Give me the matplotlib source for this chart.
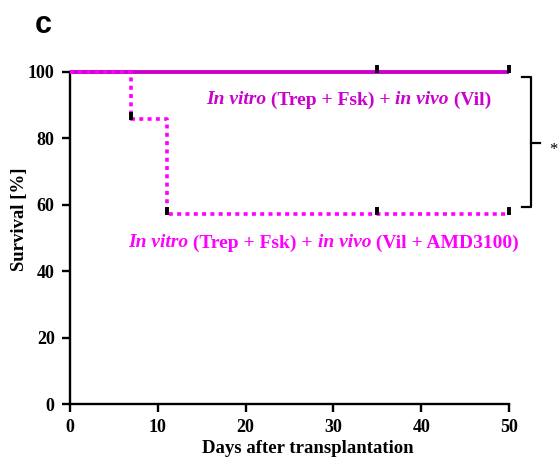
import matplotlib
matplotlib.use("Agg")
import matplotlib.pyplot as plt
import matplotlib.transforms as mtransforms
from matplotlib.lines import Line2D

# ---- data ----
vil_days = [0, 50]
vil_surv = [100, 100]
vil_censor_days = [35, 50]
vil_censor_surv = [100, 100]

amd_days = [0, 7, 11, 50]
amd_surv = [100, 85.7, 57.1, 57.1]
amd_censor_days = [7, 11, 35, 50]
amd_censor_surv = [85.7, 57.1, 57.1, 57.1]

x_ticks = [0, 10, 20, 30, 40, 50]
y_ticks = [0, 20, 40, 60, 80, 100]

label_vil = [("In vitro", "italic"), (" (Trep + Fsk) + ", "normal"), ("in vivo", "italic"), (" (Vil)", "normal")]
label_amd = [("In vitro", "italic"), (" (Trep + Fsk) + ", "normal"), ("in vivo", "italic"), (" (Vil + AMD3100)", "normal")]

C_VIL = "#CC00CC"
C_AMD = "#FF00FF"
SERIF = "Liberation Serif"

fig = plt.figure(figsize=(5.59, 4.61), dpi=100)
ax = fig.add_axes([70/559, 57/461, 439/559, 332/461])

ax.step(vil_days, vil_surv, where="post", color=C_VIL, lw=2.8, clip_on=False, zorder=3,
        solid_capstyle="butt")
ax.step(amd_days, amd_surv, where="post", color=C_AMD, lw=2.6, clip_on=False, zorder=4,
        linestyle=(0, (1.1, 1.2)), dash_capstyle="butt")

up = mtransforms.offset_copy(ax.transData, fig=fig, x=0, y=3, units="dots")
ax.plot(vil_censor_days, vil_censor_surv, ls="none", marker="|", ms=5.5, mew=2.8,
        color="black", transform=up, clip_on=False, zorder=5)
ax.plot(amd_censor_days, amd_censor_surv, ls="none", marker="|", ms=5.5, mew=2.8,
        color="black", transform=up, clip_on=False, zorder=5)

ax.set_xlim(0, 50)
ax.set_ylim(0, 100)
ax.set_xticks(x_ticks)
ax.set_yticks(y_ticks)
for s in ["top", "right"]:
    ax.spines[s].set_visible(False)
for s in ["left", "bottom"]:
    ax.spines[s].set_linewidth(1.7)
ax.tick_params(width=1.7, length=6, direction="out", pad=5)
for lab in ax.get_xticklabels() + ax.get_yticklabels():
    lab.set_fontfamily(SERIF)
    lab.set_fontweight("bold")
    lab.set_fontsize(13)
ax.set_xlabel("Days after transplantation", fontfamily=SERIF, fontweight="bold",
              fontsize=13.5, va="center")
ax.xaxis.set_label_coords(0.542, -0.133)
ax.set_ylabel("Survival [%]", fontfamily=SERIF, fontweight="bold", fontsize=13.5, va="center")
ax.yaxis.set_label_coords(-0.114, 0.555)

# bracket
bx, by_top, by_bot, by_mid = 52.5, 98.5, 59.3, 78.6
ax.add_line(Line2D([51.5, bx, bx, 51.5], [by_top, by_top, by_bot, by_bot], color="black",
                   lw=1.6, clip_on=False, solid_joinstyle="round"))
ax.add_line(Line2D([bx, 53.5], [by_mid, by_mid], color="black", lw=1.6, clip_on=False))
ax.text(55.0, by_mid - 2.0, "*", fontfamily=SERIF, fontsize=12, ha="center", va="center")

fig.text(43/559, 1 - 25/461, "c", fontfamily="Liberation Sans", fontweight="bold",
         fontsize=22, ha="center", va="center")


def mixed_text(pieces, xc, yc, color, size=14):
    renderer = fig.canvas.get_renderer()
    texts = []
    widths = []
    for s, style in pieces:
        t = ax.text(0, 0, s, fontfamily=SERIF, fontweight="bold", fontstyle=style,
                    fontsize=size, color=color, va="center", ha="left")
        bb = t.get_window_extent(renderer)
        texts.append(t)
        widths.append(bb.width)
    total = sum(widths)
    cx, cy = ax.transData.transform((xc, yc))
    x = cx - total / 2
    inv = ax.transData.inverted()
    for t, w in zip(texts, widths):
        t.set_position(inv.transform((x, cy)))
        x += w


fig.canvas.draw()
mixed_text(label_vil, 31.7, 91.6, C_VIL)
mixed_text(label_amd, 28.9, 48.5, C_AMD)

fig.savefig("out.png", dpi=100)
